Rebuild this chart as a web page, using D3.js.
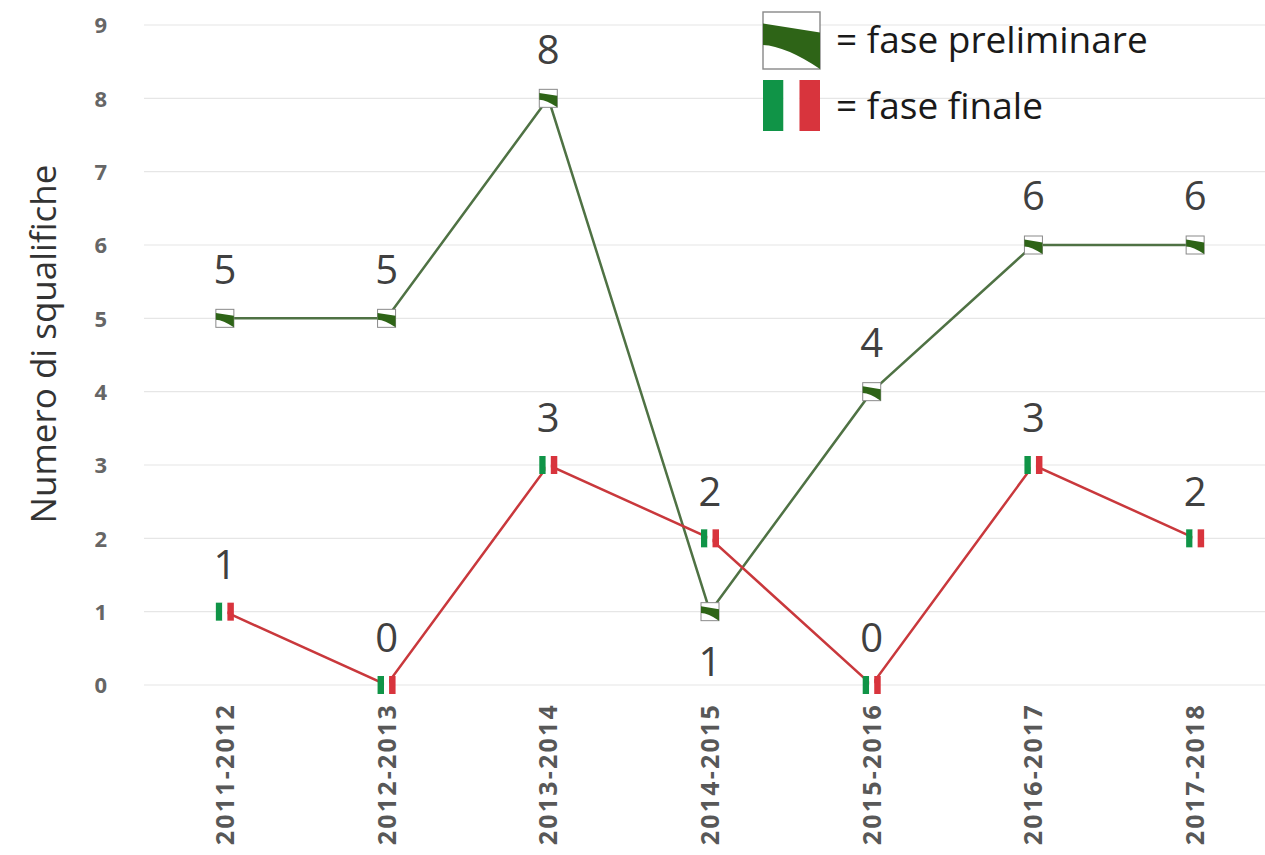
<!DOCTYPE html>
<html><head><meta charset="utf-8">
<script src="https://cdn.jsdelivr.net/npm/d3@7"></script>
<style>
body{margin:0;background:#fff;}
svg{display:block;}
</style></head>
<body>
<svg id="chart" width="1265" height="855"></svg>
<script>
const seasons = ["2011-2012","2012-2013","2013-2014","2014-2015","2015-2016","2016-2017","2017-2018"];
const preliminare = [5,5,8,1,4,6,6];
const finale = [1,0,3,2,0,3,2];
const yTicks = [0,1,2,3,4,5,6,7,8,9];
const legendLabels = ["= fase preliminare","= fase finale"];
const yTitle = "Numero di squalifiche";

const svg = d3.select("#chart");
const x = d3.scaleBand().domain(seasons).range([144,1276]);
const y = d3.scaleLinear().domain([0,9]).range([685,25]);
const cx = d => x(d) + x.bandwidth()/2;

// gridlines
svg.append("g").selectAll("line").data(yTicks).join("line")
  .attr("x1",144).attr("x2",1265)
  .attr("y1",d=>y(d)).attr("y2",d=>y(d))
  .attr("stroke","#e6e6e6").attr("stroke-width",1.2);

// y axis
const ya = svg.append("g").attr("transform","translate(107,0)")
  .call(d3.axisLeft(y).tickValues(yTicks).tickSize(0).tickPadding(0));
ya.select(".domain").remove();
ya.selectAll("text").attr("font-family","'Open Sans',sans-serif").attr("font-weight",700)
  .attr("font-size",22).attr("fill","#666").attr("dy","0.35em");

// x axis
const xa = svg.append("g").attr("transform","translate(0,700)")
  .call(d3.axisBottom(x).tickSize(0).tickPadding(0));
xa.select(".domain").remove();
xa.selectAll("text").attr("font-family","'Open Sans',sans-serif").attr("font-weight",700)
  .attr("font-size",25).attr("fill","#585858").attr("letter-spacing","2.2px")
  .attr("text-anchor","end").attr("transform","rotate(-90)")
  .attr("x",-3).attr("y",0).attr("dy","0.36em").attr("dx",0);

// y title
svg.append("text").attr("transform","translate(44,344) rotate(-90)")
  .attr("text-anchor","middle").attr("dy","0.35em")
  .attr("font-family","'Open Sans',sans-serif").attr("font-size",35)
  .attr("fill","#333").text(yTitle);

// lines
const line = d3.line().x((d,i)=>cx(seasons[i])).y(d=>y(d));
svg.append("path").datum(preliminare).attr("d",line).attr("fill","none")
  .attr("stroke","#4f7244").attr("stroke-width",2.5);
svg.append("path").datum(finale).attr("d",line).attr("fill","none")
  .attr("stroke","#c9383c").attr("stroke-width",2.5);

// marker drawers
function prelimMarker(g, s){
  g.append("rect").attr("width",s).attr("height",s).attr("fill","#fff")
    .attr("stroke","#8a8a8a").attr("stroke-width",Math.max(1,s/40));
  const p = d3.path();
  p.moveTo(0, s*0.2);
  p.lineTo(s, s*0.36);
  p.lineTo(s, s);
  p.quadraticCurveTo(s*0.4, s*0.6, 0, s*0.58);
  p.closePath();
  g.append("path").attr("d",p.toString()).attr("fill","#2e6417");
}
function finalMarker(g, w, h){
  const bw = w*0.36;
  g.append("rect").attr("x",0).attr("width",bw).attr("height",h).attr("fill","#109447");
  g.append("rect").attr("x",bw).attr("width",w-2*bw).attr("height",h).attr("fill","#fff");
  g.append("rect").attr("x",w-bw).attr("width",bw).attr("height",h).attr("fill","#d8343d");
}

// markers
const ms = 18;
svg.append("g").selectAll("g").data(preliminare).join("g")
  .attr("transform",(d,i)=>`translate(${cx(seasons[i])-ms/2},${y(d)-ms/2})`)
  .each(function(){ prelimMarker(d3.select(this), ms); });
svg.append("g").selectAll("g").data(finale).join("g")
  .attr("transform",(d,i)=>`translate(${cx(seasons[i])-ms/2},${y(d)-ms/2})`)
  .each(function(){ finalMarker(d3.select(this), ms, ms); });

// data labels
const lblStyle = sel => sel.attr("font-family","'Open Sans',sans-serif").attr("font-size",40)
  .attr("fill","#404040").attr("text-anchor","middle").attr("dy","0.36em");
svg.append("g").selectAll("text").data(preliminare).join("text")
  .attr("x",(d,i)=>cx(seasons[i]))
  .attr("y",(d,i)=> seasons[i]==="2014-2015" ? y(d)+50 : y(d)-49)
  .text(d=>d).call(lblStyle);
svg.append("g").selectAll("text").data(finale).join("text")
  .attr("x",(d,i)=>cx(seasons[i]))
  .attr("y",d=>y(d)-47)
  .text(d=>d).call(lblStyle);

// legend
const lg = svg.append("g");
prelimMarker(lg.append("g").attr("transform","translate(763,12)"), 57);
finalMarker(lg.append("g").attr("transform","translate(763,80)"), 57, 51);
lg.selectAll("text").data(legendLabels).join("text")
  .attr("x",836).attr("y",(d,i)=> i===0 ? 40 : 106).attr("dy","0.35em")
  .attr("font-family","'Open Sans',sans-serif").attr("font-size",37).attr("fill","#1a1a1a")
  .text(d=>d);
</script>
</body></html>
